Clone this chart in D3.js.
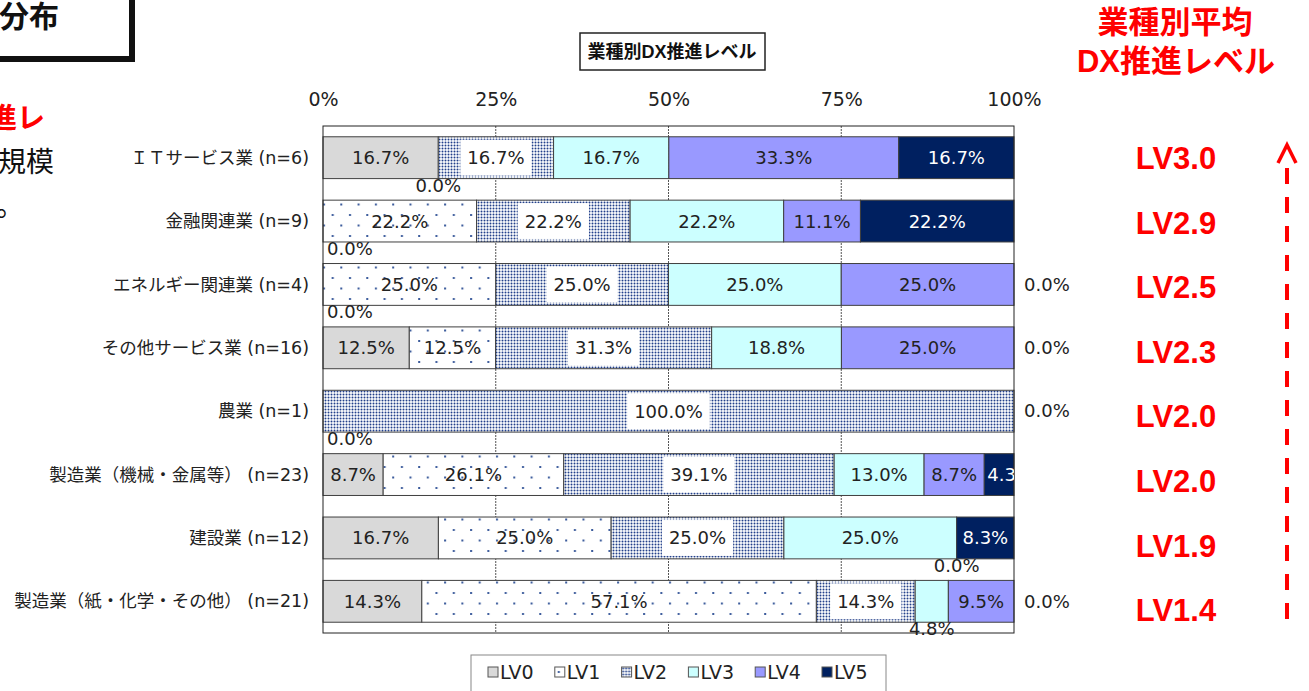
<!DOCTYPE html>
<html>
<head>
<meta charset="utf-8">
<script src="https://cdn.jsdelivr.net/npm/d3@7"></script>
<style>
  body { margin: 0; background: #fff; }
  text { font-family: "DejaVu Sans", "Noto Sans CJK JP", sans-serif; }
</style>
</head>
<body>
<div id="chart"></div>
<script>
// categories, top to bottom
const categories = [
  "ＩＴサービス業 (n=6)",
  "金融関連業 (n=9)",
  "エネルギー関連業 (n=4)",
  "その他サービス業 (n=16)",
  "農業 (n=1)",
  "製造業（機械・金属等） (n=23)",
  "建設業 (n=12)",
  "製造業（紙・化学・その他） (n=21)"
];
const levels = ["LV0", "LV1", "LV2", "LV3", "LV4", "LV5"];

// share of companies per level (%)
const lv0 = [16.7, 0.0, 0.0, 12.5, 0.0, 8.7, 16.7, 14.3];
const lv1 = [0.0, 22.2, 25.0, 12.5, 0.0, 26.1, 25.0, 57.1];
const lv2 = [16.7, 22.2, 25.0, 31.3, 100.0, 39.1, 25.0, 14.3];
const lv3 = [16.7, 22.2, 25.0, 18.8, 0.0, 13.0, 25.0, 4.8];
const lv4 = [33.3, 11.1, 25.0, 25.0, 0.0, 8.7, 0.0, 9.5];
const lv5 = [16.7, 22.2, 0.0, 0.0, 0.0, 4.3, 8.3, 0.0];

// average DX level per industry
const avgLevel = [3.0, 2.9, 2.5, 2.3, 2.0, 2.0, 1.9, 1.4];

const xTicks = [0, 0.25, 0.5, 0.75, 1];

// small segments whose label sits under the bar
const labelBelow = [["製造業（紙・化学・その他） (n=21)", "LV3"]];

const W = 1309, H = 691;
const plot = {left: 323, right: 1014, top: 126, bottom: 633};

const series = [lv0, lv1, lv2, lv3, lv4, lv5];
const table = categories.map((c, i) => {
  const row = {cat: c};
  levels.forEach((l, j) => row[l] = series[j][i]);
  return row;
});

const color = d3.scaleOrdinal().domain(levels)
  .range(["#d9d9d9", "url(#pLV1)", "url(#pLV2)", "#ccffff", "#9999ff", "#002060"]);

const svg = d3.select("#chart").append("svg")
  .attr("width", W).attr("height", H);

// patterns
const defs = svg.append("defs");
const p1 = defs.append("pattern").attr("id", "pLV1")
  .attr("patternUnits", "userSpaceOnUse").attr("width", 17.3).attr("height", 21);
p1.append("rect").attr("width", 17.3).attr("height", 21).attr("fill", "#fff");
p1.append("rect").attr("x", 3).attr("y", 4).attr("width", 2).attr("height", 2).attr("fill", "#3b5b9c");
p1.append("rect").attr("x", 11.6).attr("y", 14.5).attr("width", 2).attr("height", 2).attr("fill", "#3b5b9c");

const p2 = defs.append("pattern").attr("id", "pLV2")
  .attr("patternUnits", "userSpaceOnUse").attr("width", 3).attr("height", 3);
p2.append("rect").attr("width", 3).attr("height", 3).attr("fill", "#fff");
p2.append("circle").attr("cx", 1.5).attr("cy", 1.5).attr("r", 1.0).attr("fill", "#22408a");

defs.append("clipPath").attr("id", "plotClip")
  .append("rect").attr("x", plot.left).attr("y", plot.top)
  .attr("width", plot.right - plot.left).attr("height", plot.bottom - plot.top);

const x = d3.scaleLinear().domain([0, 1]).range([plot.left, plot.right]);
const y = d3.scaleBand().domain(categories).range([plot.top, plot.bottom])
  .paddingInner(0.34).paddingOuter(0.17);

// gridlines
svg.append("g").selectAll("line")
  .data(xTicks.filter(t => t > 0 && t < 1))
  .enter().append("line")
  .attr("x1", d => x(d)).attr("x2", d => x(d))
  .attr("y1", plot.top).attr("y2", plot.bottom)
  .attr("stroke", "#555").attr("stroke-width", 1)
  .attr("stroke-dasharray", "2,1");

// top axis labels
const xAxis = d3.axisTop(x).tickValues(xTicks).tickFormat(d3.format(".0%"))
  .tickSize(0).tickPadding(20);
const gx = svg.append("g").attr("transform", `translate(0,${plot.top})`).call(xAxis);
gx.select(".domain").remove();
gx.selectAll("text").attr("font-size", 19).attr("fill", "#222")
  .style("font-family", "DejaVu Sans");

// stacked bars
const stacked = d3.stack().keys(levels).offset(d3.stackOffsetExpand)(table);

const layers = svg.append("g").selectAll("g")
  .data(stacked).enter().append("g")
  .attr("fill", d => color(d.key));

layers.selectAll("rect")
  .data(d => d.filter(p => p[1] - p[0] > 0))
  .enter().append("rect")
  .attr("x", d => x(d[0]))
  .attr("y", d => y(d.data.cat))
  .attr("width", d => x(d[1]) - x(d[0]))
  .attr("height", y.bandwidth())
  .attr("stroke", "#404040").attr("stroke-width", 1);

// plot frame
svg.append("rect")
  .attr("x", plot.left).attr("y", plot.top)
  .attr("width", plot.right - plot.left).attr("height", plot.bottom - plot.top)
  .attr("fill", "none").attr("stroke", "#222").attr("stroke-width", 1);

// value labels
const inside = svg.append("g").attr("clip-path", "url(#plotClip)");
const outside = svg.append("g");
const placed = new Set();
const fs = 18;

stacked.forEach(layer => {
  layer.forEach(p => {
    const v = p.data[layer.key];
    const txt = v.toFixed(1) + "%";
    const top = y(p.data.cat), bh = y.bandwidth();
    const below = labelBelow.some(b => b[0] === p.data.cat && b[1] === layer.key);
    if (v === 0 || below) {
      let pos;
      if (v === 0 && p[0] < 1e-6) pos = "left";
      else if (v === 0 && p[0] > 1 - 1e-6) pos = "right";
      else pos = "mid";
      const key = p.data.cat + pos + (pos === "mid" ? p[0] : "");
      if (placed.has(key)) return;   // zero labels stacked on one spot
      placed.add(key);
      const t = outside.append("text").text(txt)
        .attr("font-size", fs).attr("fill", "#222");
      if (pos === "left") {
        t.attr("x", plot.left + 4).attr("y", top + bh + 13);
      } else if (pos === "right") {
        t.attr("x", plot.right + 10).attr("y", top + bh / 2).attr("dy", "0.35em");
      } else {
        t.attr("x", x((p[0] + p[1]) / 2)).attr("y", top + bh + 13)
          .attr("text-anchor", "middle");
      }
      return;
    }
    const g = inside.append("g");
    const t = g.append("text").text(txt)
      .attr("font-size", fs)
      .attr("fill", layer.key === "LV5" ? "#fff" : "#222")
      .attr("y", top + bh / 2).attr("dy", "0.36em");
    const tw = t.node().getComputedTextLength();
    const segW = x(p[1]) - x(p[0]);
    const cx = x((p[0] + p[1]) / 2);
    if (tw > segW) {
      t.attr("x", x(p[0]) + 3);
    } else {
      t.attr("x", cx).attr("text-anchor", "middle");
    }
    if (layer.key === "LV2") {
      g.insert("rect", "text")
        .attr("x", cx - tw / 2 - 7).attr("y", top + 3)
        .attr("width", tw + 14).attr("height", bh - 6)
        .attr("fill", "#fff");
    }
  });
});

// category labels
svg.append("g").selectAll("text")
  .data(categories).enter().append("text")
  .attr("x", 309).attr("y", d => y(d) + y.bandwidth() / 2)
  .attr("dy", "0.35em").attr("text-anchor", "end")
  .attr("font-size", 17.5).attr("fill", "#222")
  .text(d => d);

// chart title box
svg.append("rect").attr("x", 580).attr("y", 33).attr("width", 185).attr("height", 37)
  .attr("fill", "#fff").attr("stroke", "#222").attr("stroke-width", 1.5);
svg.append("text").attr("x", 672).attr("y", 52).attr("dy", "0.35em")
  .attr("text-anchor", "middle").attr("font-size", 18).attr("font-weight", "bold")
  .style("font-family", "'Liberation Sans', 'Noto Sans CJK JP'")
  .attr("fill", "#111").text("業種別DX推進レベル");

// legend
const legend = svg.append("g");
legend.append("rect").attr("x", 471).attr("y", 655).attr("width", 415).attr("height", 60)
  .attr("fill", "#fff").attr("stroke", "#888").attr("stroke-width", 1);
const item = legend.selectAll("g.item").data(levels).enter().append("g")
  .attr("class", "item")
  .attr("transform", (d, i) => `translate(${488 + i * 66.8},667)`);
item.append("rect").attr("width", 10).attr("height", 10)
  .attr("fill", d => color(d)).attr("stroke", "#555").attr("stroke-width", 1);
item.append("text").attr("x", 12).attr("y", 5).attr("dy", "0.36em")
  .attr("font-size", 19).attr("fill", "#222").text(d => d);

// right side: average level
const red = "#ff0000";
const boldFont = "'Liberation Sans', 'Noto Sans CJK JP'";
svg.append("text").attr("x", 1175).attr("y", 22).attr("dy", "0.35em")
  .attr("text-anchor", "middle").attr("font-size", 31).attr("font-weight", "bold")
  .style("font-family", boldFont).attr("fill", red).text("業種別平均");
svg.append("text").attr("x", 1176).attr("y", 61).attr("dy", "0.35em")
  .attr("text-anchor", "middle").attr("font-size", 31).attr("font-weight", "bold")
  .style("font-family", boldFont).attr("fill", red).text("DX推進レベル");

const avgY = d3.scaleLinear().domain([0, categories.length - 1]).range([158, 610]);
svg.append("g").selectAll("text")
  .data(avgLevel).enter().append("text")
  .attr("x", 1176).attr("y", (d, i) => avgY(i)).attr("dy", "0.36em")
  .attr("text-anchor", "middle").attr("font-size", 31).attr("font-weight", "bold")
  .style("font-family", boldFont).attr("fill", red)
  .text(d => "LV" + d.toFixed(1));

// dashed arrow
svg.append("line").attr("x1", 1287).attr("x2", 1287).attr("y1", 168).attr("y2", 622)
  .attr("stroke", red).attr("stroke-width", 4).attr("stroke-dasharray", "16,13");
svg.append("path").attr("d", "M1278,163 L1287,145 L1296,163")
  .attr("fill", "none").attr("stroke", red).attr("stroke-width", 3.5);

// cut-off slide fragments on the left
svg.append("rect").attr("x", -20).attr("y", -20).attr("width", 152).attr("height", 79)
  .attr("fill", "none").attr("stroke", "#111").attr("stroke-width", 6);
svg.append("text").attr("x", 59).attr("y", 16).attr("dy", "0.35em")
  .attr("text-anchor", "end").attr("font-size", 30).attr("font-weight", "bold")
  .attr("fill", "#111").text("分布");
svg.append("text").attr("x", 45).attr("y", 118).attr("dy", "0.35em")
  .attr("text-anchor", "end").attr("font-size", 28).attr("font-weight", "bold")
  .attr("fill", red).text("進レ");
svg.append("text").attr("x", 54).attr("y", 162).attr("dy", "0.35em")
  .attr("text-anchor", "end").attr("font-size", 28)
  .attr("fill", "#111").text("規模");
svg.append("text").attr("x", -4).attr("y", 206).attr("dy", "0.35em")
  .attr("font-size", 28).attr("fill", "#111").text("。");
</script>
</body>
</html>
